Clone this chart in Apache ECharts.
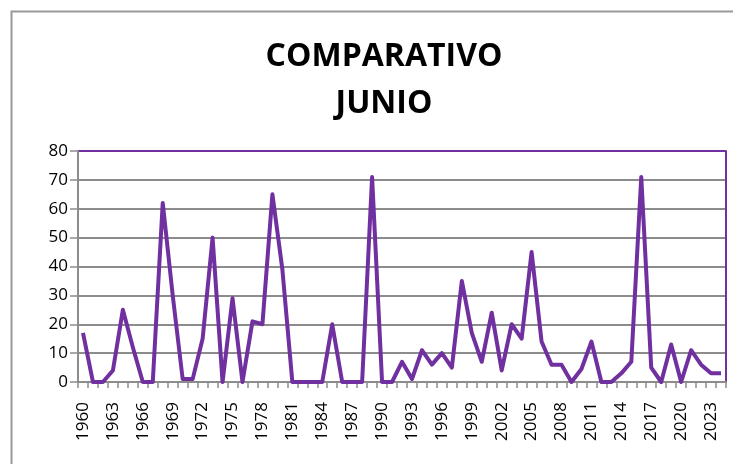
<!DOCTYPE html>
<html>
<head>
<meta charset="utf-8">
<script src="https://cdn.jsdelivr.net/npm/echarts@6/dist/echarts.min.js"></script>
<style>
  html, body { margin: 0; padding: 0; background: #fff; }
  #chart { width: 733px; height: 464px; }
</style>
</head>
<body>
<div id="chart"></div>
<script>
// años 1960 - 2024
const years = [];
for (let y = 1960; y <= 2024; y++) years.push(String(y));

const junio = [
  17, 0, 0, 4, 25, 12, 0, 0, 62, 30,
  1, 1, 15, 50, 0, 29, 0, 21, 20, 65,
  39, 0, 0, 0, 0, 20, 0, 0, 0, 71,
  0, 0, 7, 1, 11, 6, 10, 5, 35, 17,
  7, 24, 4, 20, 15, 45, 14, 6, 6, 0,
  4.5, 14, 0, 0, 3, 7, 71, 5, 0, 13,
  0, 11, 6, 3, 3
];

const yTicks = [0, 10, 20, 30, 40, 50, 60, 70, 80];

const purple = "#7030A0";
const gray = "#8c8c8c";

// la linea superior (80) va en morado, el resto en gris
const gridColors = yTicks.map((t, i) => (i === yTicks.length - 1 ? purple : gray));

const chart = echarts.init(document.getElementById("chart"));
const option = {
  animation: false,
  title: {
    text: "COMPARATIVO\nJUNIO",
    left: 379,
    textAlign: "center",
    top: 28,
    textStyle: {
      fontFamily: "Open Sans",
      fontWeight: "bold",
      fontSize: 32,
      lineHeight: 47,
      color: "#000",
    },
  },
  graphic: [
    {
      type: "rect",
      shape: { x: 11.5, y: 11.5, width: 740, height: 470 },
      style: { fill: "none", stroke: "#999", lineWidth: 2 },
      silent: true,
    },
  ],
  grid: {
    left: 78,
    right: 7,
    top: 151,
    bottom: 82,
  },
  xAxis: {
    type: "category",
    data: years,
    boundaryGap: true,
    axisLine: { lineStyle: { color: gray, width: 2 } },
    axisTick: {
      show: true,
      interval: 0,
      alignWithLabel: false,
      length: 6,
      lineStyle: { color: gray, width: 1.5 },
    },
    axisLabel: {
      interval: 2,
      rotate: 90,
      margin: 20,
      fontFamily: "Open Sans",
      fontSize: 17,
      color: "#000",
    },
    splitLine: { show: false },
  },
  yAxis: [
    {
      type: "value",
      min: yTicks[0],
      max: yTicks[yTicks.length - 1],
      interval: 10,
      axisLine: { show: true, lineStyle: { color: gray, width: 2 } },
      axisTick: { show: true, length: 8, lineStyle: { color: gray, width: 1.5 } },
      axisLabel: {
        margin: 10,
        fontFamily: "Open Sans",
        fontSize: 17,
        color: "#000",
      },
      splitLine: {
        show: true,
        lineStyle: { color: gridColors, width: 2 },
      },
    },
    {
      // borde derecho morado
      type: "value",
      position: "right",
      min: yTicks[0],
      max: yTicks[yTicks.length - 1],
      interval: 10,
      axisLine: { show: true, lineStyle: { color: purple, width: 2 } },
      axisTick: { show: false },
      axisLabel: { show: false },
      splitLine: { show: false },
    },
  ],
  series: [
    {
      type: "line",
      data: junio,
      symbol: "none",
      lineStyle: { color: purple, width: 4, join: "round" },
    },
  ],
};
chart.setOption(option);
</script>
</body>
</html>
